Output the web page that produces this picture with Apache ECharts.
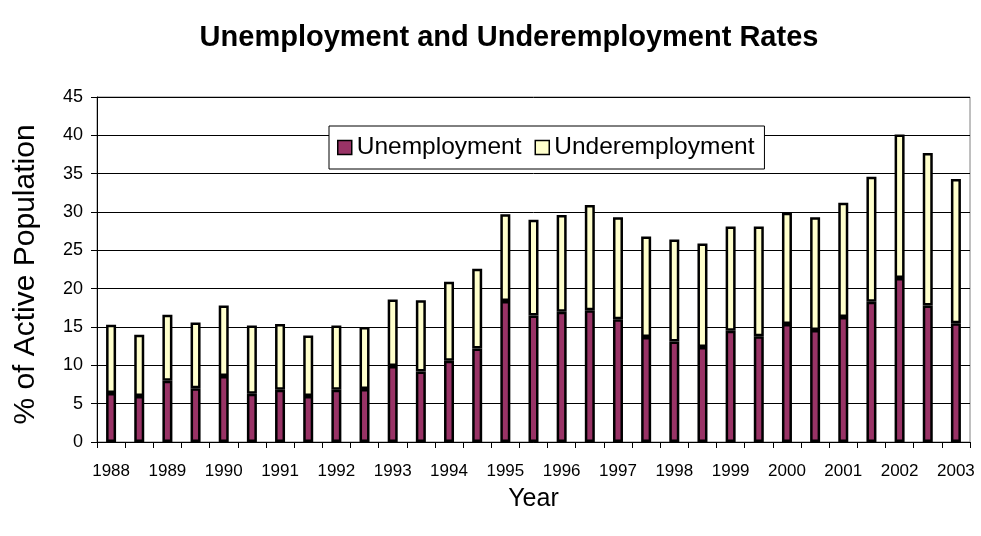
<!DOCTYPE html>
<html>
<head>
<meta charset="utf-8">
<script src="https://cdn.jsdelivr.net/npm/echarts@6/dist/echarts.min.js"></script>
<style>
  html, body { margin: 0; padding: 0; background: #fff; }
  #chart { width: 981px; height: 536px; }
</style>
</head>
<body>
<div id="chart"></div>
<script>
// Half-yearly observations, 1988 to 2003
var periods = [
  '1988', '1988 II', '1989', '1989 II', '1990', '1990 II', '1991', '1991 II',
  '1992', '1992 II', '1993', '1993 II', '1994', '1994 II', '1995', '1995 II',
  '1996', '1996 II', '1997', '1997 II', '1998', '1998 II', '1999', '1999 II',
  '2000', '2000 II', '2001', '2001 II', '2002', '2002 II', '2003'
];

// Unemployment rate (% of active population)
var unemployment = [
  6.4, 6.0, 8.0, 7.0, 8.6, 6.3, 6.8, 6.0,
  6.8, 6.9, 9.9, 9.2, 10.6, 12.2, 18.4, 16.5,
  17.0, 17.2, 16.0, 13.7, 13.1, 12.4, 14.5, 13.8,
  15.4, 14.6, 16.3, 18.3, 21.4, 17.8, 15.5
];

// Underemployment rate, stacked on top of unemployment
var underemployment = [
  8.9, 8.0, 8.6, 8.6, 9.2, 8.9, 8.6, 7.9,
  8.4, 8.1, 8.7, 9.3, 10.3, 10.4, 11.3, 12.5,
  12.6, 13.7, 13.3, 13.1, 13.3, 13.5, 13.6, 14.3,
  14.5, 14.7, 14.9, 16.3, 18.7, 19.9, 18.8
];

var FONT = 'Arial, "Liberation Sans", sans-serif';

var chart = echarts.init(document.getElementById('chart'), null, { renderer: 'canvas' });

chart.setOption({
  animation: false,
  backgroundColor: '#ffffff',
  title: {
    text: 'Unemployment and Underemployment Rates',
    left: 504,
    textAlign: 'center',
    top: 18,
    textStyle: { fontFamily: FONT, fontSize: 29, fontWeight: 'bold', color: '#000' }
  },
  legend: {
    left: 329,
    top: 126,
    padding: [9, 10, 9, 8],
    itemGap: 13,
    itemWidth: 14,
    itemHeight: 14,
    backgroundColor: '#ffffff',
    borderColor: '#000000',
    borderWidth: 1,
    textStyle: { fontFamily: FONT, fontSize: 24.5, color: '#000' },
    data: [
      { name: 'Unemployment', icon: 'rect', itemStyle: { borderColor: '#000', borderWidth: 1.5 } },
      { name: 'Underemployment', icon: 'rect', itemStyle: { borderColor: '#000', borderWidth: 1.5 } }
    ]
  },
  grid: {
    left: 97,
    right: 11,
    top: 97,
    bottom: 94,
    show: true,
    borderColor: '#808080',
    borderWidth: 1,
    backgroundColor: 'transparent'
  },
  xAxis: {
    type: 'category',
    data: periods,
    name: 'Year',
    nameLocation: 'middle',
    nameGap: 45,
    nameTextStyle: { fontFamily: FONT, fontSize: 25, color: '#000' },
    axisLine: { lineStyle: { color: '#000', width: 1 } },
    axisTick: { show: true, interval: 0, length: 6, lineStyle: { color: '#000' } },
    axisLabel: {
      interval: 1,
      margin: 21,
      fontFamily: FONT,
      fontSize: 17,
      color: '#000'
    }
  },
  yAxis: {
    type: 'value',
    min: 0,
    max: 45,
    interval: 5,
    name: '% of Active Population',
    nameLocation: 'middle',
    nameGap: 56,
    nameTextStyle: { fontFamily: FONT, fontSize: 30, color: '#000', padding: [0, 10, 0, 0] },
    axisLine: { show: true, lineStyle: { color: '#000', width: 1 } },
    axisTick: { show: true, length: 6, lineStyle: { color: '#000' } },
    axisLabel: { margin: 14, fontFamily: FONT, fontSize: 18, color: '#000' },
    splitLine: { show: true, lineStyle: { color: '#000', width: 1 } }
  },
  series: [
    {
      name: 'Unemployment',
      type: 'bar',
      stack: 'rate',
      barWidth: 10,
      data: unemployment,
      itemStyle: { color: '#993366', borderColor: '#000', borderWidth: 2.5 }
    },
    {
      name: 'Underemployment',
      type: 'bar',
      stack: 'rate',
      barWidth: 10,
      data: underemployment,
      itemStyle: { color: '#FFFFCC', borderColor: '#000', borderWidth: 2.5 }
    }
  ]
});
</script>
</body>
</html>
